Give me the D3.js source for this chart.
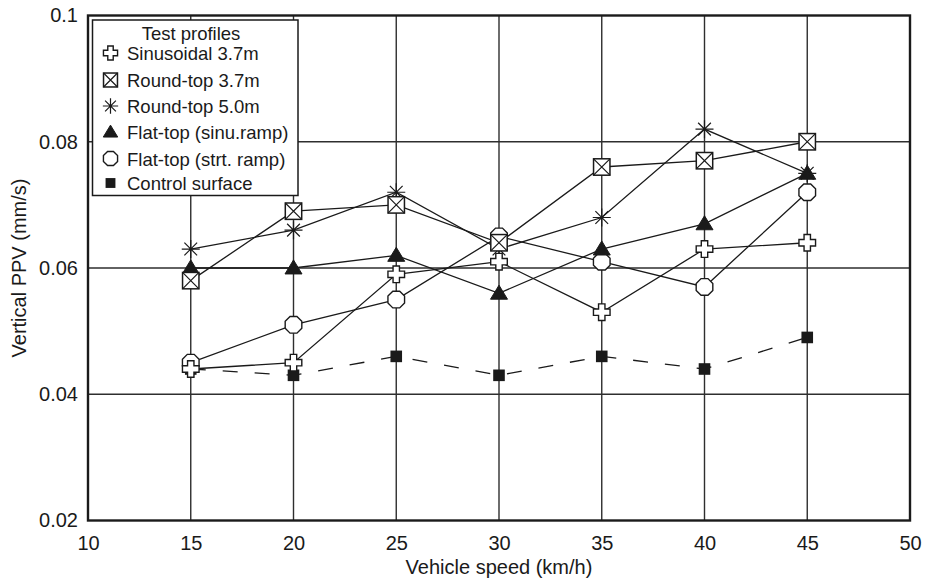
<!DOCTYPE html>
<html>
<head>
<meta charset="utf-8">
<script src="https://cdn.jsdelivr.net/npm/d3@7/dist/d3.min.js"></script>
<style>
  html, body { margin: 0; padding: 0; background: #fff; }
  svg text { font-family: "Liberation Sans", Arial, Helvetica, sans-serif; fill: #1a1a1a; }
</style>
</head>
<body>
<svg id="chart" width="927" height="584"></svg>
<script>
// Vehicle speeds (km/h) at which each profile was measured
const speeds = [15, 20, 25, 30, 35, 40, 45];

// Vertical peak particle velocity (mm/s) per test profile
const sinusoidal37 = [0.044, 0.045, 0.059, 0.061, 0.053, 0.063, 0.064];
const roundTop37   = [0.058, 0.069, 0.070, 0.064, 0.076, 0.077, 0.080];
const roundTop50   = [0.063, 0.066, 0.072, 0.063, 0.068, 0.082, 0.075];
const flatTopSinu  = [0.060, 0.060, 0.062, 0.056, 0.063, 0.067, 0.075];
const flatTopStrt  = [0.045, 0.051, 0.055, 0.065, 0.061, 0.057, 0.072];
const controlSurf  = [0.044, 0.043, 0.046, 0.043, 0.046, 0.044, 0.049];

const seriesNames = ["Sinusoidal 3.7m", "Round-top 3.7m", "Round-top 5.0m",
                     "Flat-top (sinu.ramp)", "Flat-top (strt. ramp)", "Control surface"];
const seriesValues = [sinusoidal37, roundTop37, roundTop50, flatTopSinu, flatTopStrt, controlSurf];
const seriesMarkers = ["plus", "boxx", "star", "triangle", "circle", "square"];

// Axis ticks
const xTicks = [10, 15, 20, 25, 30, 35, 40, 45, 50];
const yTicks = [0.02, 0.04, 0.06, 0.08, 0.1];
const yTickLabels = ["0.02", "0.04", "0.06", "0.08", "0.1"];

const legendTitle = "Test profiles";
const xTitle = "Vehicle speed (km/h)";
const yTitle = "Vertical PPV (mm/s)";

const ink = "#1a1a1a";
const svg = d3.select("#chart");
const plot = { left: 88, right: 910, top: 15.5, bottom: 520.5 };

const x = d3.scaleLinear().domain([10, 50]).range([plot.left, plot.right]);
const y = d3.scaleLinear().domain([0.02, 0.1]).range([plot.bottom, plot.top]);

// Grid lines
const grid = svg.append("g");
grid.selectAll("line.vx").data(xTicks.slice(1, -1)).join("line")
  .attr("x1", d => x(d)).attr("x2", d => x(d))
  .attr("y1", plot.top).attr("y2", plot.bottom)
  .attr("stroke", "#2e2e2e").attr("stroke-width", 1.4);
grid.selectAll("line.hy").data(yTicks.slice(1, -1)).join("line")
  .attr("x1", plot.left).attr("x2", plot.right)
  .attr("y1", d => y(d)).attr("y2", d => y(d))
  .attr("stroke", "#2e2e2e").attr("stroke-width", 1.4);

// Axes (labels only; the frame is drawn separately)
const xAxis = svg.append("g")
  .attr("transform", `translate(0,${plot.bottom})`)
  .call(d3.axisBottom(x).tickValues(xTicks).tickSize(0).tickFormat(d3.format("d")));
xAxis.select(".domain").remove();
xAxis.selectAll("text")
  .attr("y", 29.5).attr("dy", null)
  .attr("font-size", 20).attr("fill", ink)
  .style("font-family", "'Liberation Sans', Arial, sans-serif");

const yAxis = svg.append("g")
  .attr("transform", `translate(${plot.left},0)`)
  .call(d3.axisLeft(y).tickValues(yTicks).tickSize(0).tickPadding(10)
    .tickFormat((d, i) => yTickLabels[i]));
yAxis.select(".domain").remove();
yAxis.selectAll("text").attr("font-size", 20).attr("fill", ink)
  .style("font-family", "'Liberation Sans', Arial, sans-serif");

// Frame
svg.append("rect")
  .attr("x", plot.left).attr("y", plot.top)
  .attr("width", plot.right - plot.left).attr("height", plot.bottom - plot.top)
  .attr("fill", "none").attr("stroke", ink).attr("stroke-width", 2.4);

// Axis titles
svg.append("text").attr("x", (plot.left + plot.right) / 2).attr("y", 574)
  .attr("text-anchor", "middle").attr("font-size", 20).text(xTitle);
svg.append("text")
  .attr("transform", `translate(26,${(plot.top + plot.bottom) / 2}) rotate(-90)`)
  .attr("text-anchor", "middle").attr("font-size", 20).text(yTitle);

// Marker shapes
function drawMarker(g, type, cx, cy, s) {
  const k = s || 1;
  if (type === "plus") {
    const a = 8.3 * k, b = 3.2 * k;
    g.append("path")
      .attr("d", `M${cx - b},${cy - a}H${cx + b}V${cy - b}H${cx + a}V${cy + b}H${cx + b}V${cy + a}H${cx - b}V${cy + b}H${cx - a}V${cy - b}H${cx - b}Z`)
      .attr("fill", "#fff").attr("stroke", ink).attr("stroke-width", 1.4);
  } else if (type === "boxx") {
    const h = 8.2 * k;
    g.append("rect").attr("x", cx - h).attr("y", cy - h).attr("width", 2 * h).attr("height", 2 * h)
      .attr("fill", "#fff").attr("stroke", ink).attr("stroke-width", 1.5);
    g.append("path").attr("d", `M${cx - h},${cy - h}L${cx + h},${cy + h}M${cx + h},${cy - h}L${cx - h},${cy + h}`)
      .attr("stroke", ink).attr("stroke-width", 1.2);
  } else if (type === "star") {
    const r = 9 * k;
    let d = "";
    for (let i = 0; i < 4; i++) {
      const ang = i * Math.PI / 4;
      d += `M${cx - r * Math.cos(ang)},${cy - r * Math.sin(ang)}L${cx + r * Math.cos(ang)},${cy + r * Math.sin(ang)}`;
    }
    g.append("path").attr("d", d).attr("stroke", ink).attr("stroke-width", 1.2).attr("fill", "none");
  } else if (type === "triangle") {
    const h = 8.5 * k;
    g.append("path").attr("d", `M${cx},${cy - h * 0.95}L${cx + h},${cy + h * 0.7}L${cx - h},${cy + h * 0.7}Z`)
      .attr("fill", ink).attr("stroke", ink).attr("stroke-width", 1);
  } else if (type === "circle") {
    const r = 9 * k;
    const pts = d3.range(8).map(i => {
      const ang = Math.PI / 8 + i * Math.PI / 4;
      return [cx + r * Math.cos(ang), cy + r * Math.sin(ang)];
    });
    g.append("path").attr("d", "M" + pts.join("L") + "Z")
      .attr("fill", "#fff").attr("stroke", ink).attr("stroke-width", 1.4);
  } else if (type === "square") {
    const h = 5.8 * k;
    g.append("rect").attr("x", cx - h).attr("y", cy - h).attr("width", 2 * h).attr("height", 2 * h)
      .attr("fill", ink);
  }
}

// Series lines
const line = d3.line().x((d, i) => x(speeds[i])).y(d => y(d));
const linesG = svg.append("g");
seriesValues.forEach((vals, si) => {
  linesG.append("path").attr("d", line(vals))
    .attr("fill", "none").attr("stroke", ink).attr("stroke-width", 1.3)
    .attr("stroke-dasharray", si === 5 ? "15,17" : null);
});

// Series markers
const marksG = svg.append("g");
[5, 4, 3, 2, 1, 0].forEach(si => {
  seriesValues[si].forEach((v, i) => drawMarker(marksG, seriesMarkers[si], x(speeds[i]), y(v)));
});

// Legend
const lg = svg.append("g");
lg.append("rect").attr("x", 92.5).attr("y", 20).attr("width", 205.5).attr("height", 175.5)
  .attr("fill", "#fff").attr("stroke", ink).attr("stroke-width", 1.5);
lg.append("text").attr("x", 191).attr("y", 39.5).attr("text-anchor", "middle")
  .attr("font-size", 18.5).text(legendTitle);
const rowY = [53, 80, 106, 132, 158.5, 183];
seriesNames.forEach((name, i) => {
  drawMarker(lg, seriesMarkers[i], 110.5, rowY[i], 0.85);
  lg.append("text").attr("x", 127).attr("y", rowY[i] + 7).attr("font-size", 18.5).text(name);
});
</script>
</body>
</html>
